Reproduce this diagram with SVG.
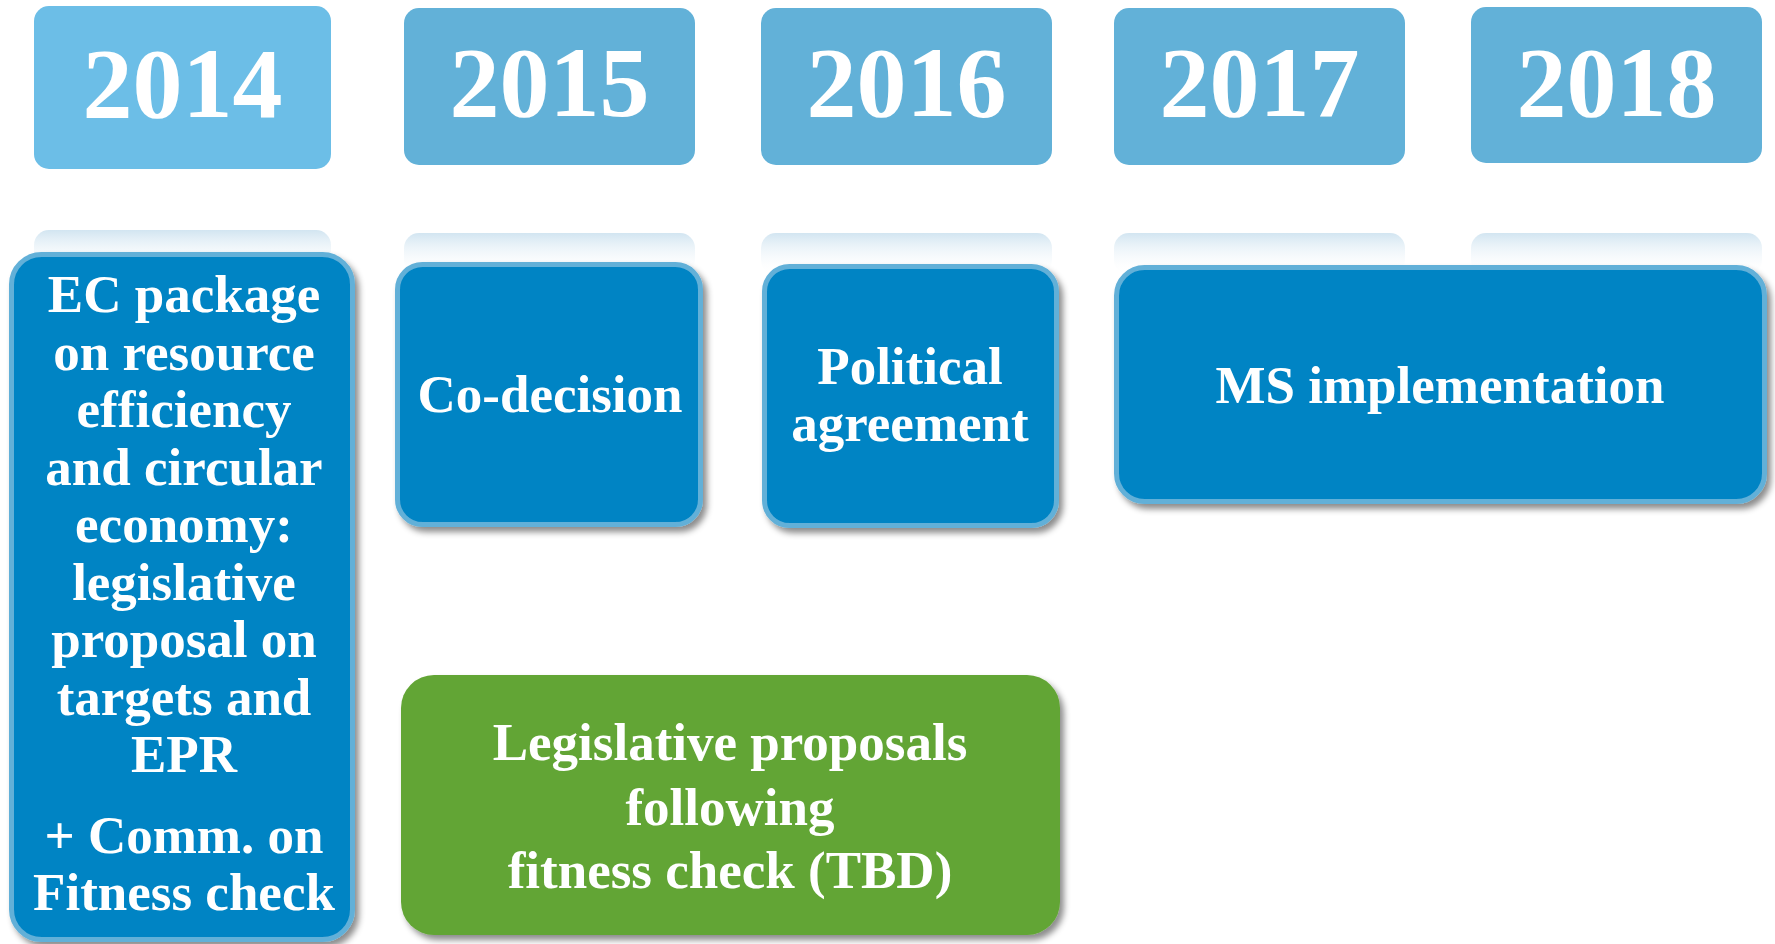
<svg xmlns="http://www.w3.org/2000/svg" width="1775" height="944" viewBox="0 0 1775 944">
  <defs>
    <linearGradient id="refl" x1="0" y1="0" x2="0" y2="1">
      <stop offset="0" stop-color="#d2e5f1"/>
      <stop offset="1" stop-color="#ffffff" stop-opacity="0"/>
    </linearGradient>
    <filter id="shadow" x="-10%" y="-10%" width="125%" height="125%">
      <feDropShadow dx="4" dy="5" stdDeviation="3" flood-color="#000" flood-opacity="0.45"/>
    </filter>
    <style>
      .year { fill: #62b1d8; }
      .year0 { fill: #6cbee7; }
      .refl { fill: url(#refl); }
      .yt { font-family: "Liberation Serif", "Times New Roman", serif; font-weight: bold; font-size: 100px; fill: #ffffff; text-anchor: middle; }
      .blue { fill: #0284c4; stroke: #62b0d8; stroke-width: 5; filter: url(#shadow); }
      .green { fill: #62a535; filter: url(#shadow); }
      .t { font-family: "Liberation Serif", "Times New Roman", serif; font-weight: bold; font-size: 53px; fill: #ffffff; text-anchor: middle; }
    </style>
  </defs>
  <rect width="1775" height="944" fill="#ffffff"/>

  <!-- reflections under year boxes -->
  <g id="reflections">
    <rect class="refl" x="34" y="230" width="297" height="42" rx="15"/>
    <rect class="refl" x="404" y="233" width="291" height="42" rx="15"/>
    <rect class="refl" x="761" y="233" width="291" height="42" rx="15"/>
    <rect class="refl" x="1114" y="233" width="291" height="42" rx="15"/>
    <rect class="refl" x="1471" y="233" width="291" height="42" rx="15"/>
  </g>

  <g id="year-2014">
    <rect class="year0" x="34" y="6" width="297" height="163" rx="15"/>
    <text class="yt" x="182.5" y="117">2014</text>
  </g>
  <g id="year-2015">
    <rect class="year" x="404" y="8" width="291" height="157" rx="15"/>
    <text class="yt" x="549.5" y="116">2015</text>
  </g>
  <g id="year-2016">
    <rect class="year" x="761" y="8" width="291" height="157" rx="15"/>
    <text class="yt" x="906.5" y="116">2016</text>
  </g>
  <g id="year-2017">
    <rect class="year" x="1114" y="8" width="291" height="157" rx="15"/>
    <text class="yt" x="1259.5" y="116">2017</text>
  </g>
  <g id="year-2018">
    <rect class="year" x="1471" y="7" width="291" height="156" rx="15"/>
    <text class="yt" x="1616.5" y="116">2018</text>
  </g>

  <g id="ec-package">
    <rect class="blue" x="11.5" y="254.5" width="341" height="685" rx="30"/>
    <text class="t" x="184" y="312">EC package</text>
    <text class="t" x="184" y="369.5">on resource</text>
    <text class="t" x="184" y="427">efficiency</text>
    <text class="t" x="184" y="484.5">and circular</text>
    <text class="t" x="184" y="542">economy:</text>
    <text class="t" x="184" y="599.5">legislative</text>
    <text class="t" x="184" y="657">proposal on</text>
    <text class="t" x="184" y="714.5">targets and</text>
    <text class="t" x="184" y="772">EPR</text>
    <text class="t" x="184" y="853">+ Comm. on</text>
    <text class="t" x="184" y="910">Fitness check</text>
  </g>

  <g id="co-decision">
    <rect class="blue" x="397.5" y="264.5" width="303" height="260" rx="25"/>
    <text class="t" x="550" y="412">Co-decision</text>
  </g>

  <g id="political-agreement">
    <rect class="blue" x="764.5" y="266.5" width="292" height="259" rx="25"/>
    <text class="t" x="910" y="384">Political</text>
    <text class="t" x="910" y="441">agreement</text>
  </g>

  <g id="ms-implementation">
    <rect class="blue" x="1116.5" y="267.5" width="648" height="234" rx="28"/>
    <text class="t" x="1440" y="403">MS implementation</text>
  </g>

  <g id="legislative-proposals">
    <rect class="green" x="401" y="675" width="659" height="260" rx="33"/>
    <text class="t" x="730" y="760">Legislative proposals</text>
    <text class="t" x="730" y="825">following</text>
    <text class="t" x="730" y="888">fitness check (TBD)</text>
  </g>

  <g id="connectors"/>
</svg>
